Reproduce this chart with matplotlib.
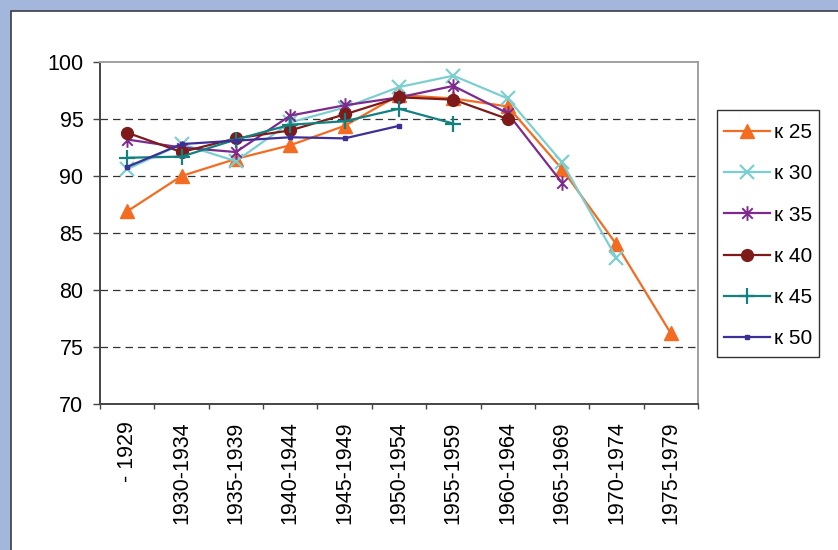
import numpy as np
import matplotlib
matplotlib.use("Agg")
import matplotlib.pyplot as plt
from matplotlib.patches import Rectangle
from matplotlib.path import Path
from matplotlib import font_manager

names = {f.name for f in font_manager.fontManager.ttflist}
fam = 'Liberation Sans Narrow' if 'Liberation Sans Narrow' in names else 'Liberation Sans'
plt.rcParams['font.family'] = [fam, 'DejaVu Sans']

categories = ["- 1929", "1930-1934", "1935-1939", "1940-1944", "1945-1949",
              "1950-1954", "1955-1959", "1960-1964", "1965-1969", "1970-1974", "1975-1979"]
nan = np.nan
k25 = [86.9, 90.0, 91.5, 92.7, 94.4, 97.1, 96.8, 96.1, 90.6, 84.0, 76.2]
k30 = [90.6, 92.8, 91.3, 94.7, 96.0, 97.8, 98.8, 96.8, 91.2, 82.8, nan]
k35 = [93.2, 92.5, 92.1, 95.3, 96.2, 96.9, 97.9, 95.5, 89.4, nan, nan]
k40 = [93.8, 92.1, 93.3, 94.0, 95.4, 96.9, 96.7, 95.0, nan, nan, nan]
k45 = [91.6, 91.7, 93.2, 94.5, 94.8, 95.9, 94.6, nan, nan, nan, nan]
k50 = [90.8, 92.8, 93.1, 93.4, 93.3, 94.4, nan, nan, nan, nan, nan]
series_labels = ["к 25", "к 30", "к 35", "к 40", "к 45", "к 50"]
yticks = [70, 75, 80, 85, 90, 95, 100]

W, H = 838, 550
fig = plt.figure(figsize=(W / 100, H / 100), dpi=100, facecolor='#A3B7DD')
fig.patches.append(Rectangle((11 / W, -0.05), 1.1, 1.05 - 11 / H, transform=fig.transFigure,
                             facecolor='white', edgecolor='#3C3C4C', lw=1.2, zorder=-10))
# legend frame
fig.patches.append(Rectangle((717 / W, 1 - 357 / H), 102 / W, 247 / H, transform=fig.transFigure,
                             facecolor='none', edgecolor='#333333', lw=1.0, zorder=5))

ax = fig.add_axes([100 / W, 1 - 404 / H, 598 / W, 342 / H], zorder=1)
ax.set_facecolor('none')

ast = Path([(0, -1), (0, 1), (-0.72, -0.72), (0.72, 0.72), (-0.72, 0.72), (0.72, -0.72)],
           [Path.MOVETO, Path.LINETO, Path.MOVETO, Path.LINETO, Path.MOVETO, Path.LINETO])

x = np.arange(len(categories))
styles = [
    dict(color='#F36C21', marker='^', ms=9.5, mec='#F36C21', mfc='#F36C21'),
    dict(color='#7DCFCF', marker='x', ms=9.5, mew=1.6),
    dict(color='#7C2A8E', marker=ast, ms=10.5, mew=1.4),
    dict(color='#7E1A1A', marker='o', ms=8.5),
    dict(color='#13817F', marker='+', ms=11.5, mew=1.6),
    dict(color='#3C2F98', marker='s', ms=3.5),
]
for vals, lab, st in zip([k25, k30, k35, k40, k45, k50], series_labels, styles):
    ax.plot(x, vals, lw=1.6, label=lab, **st)

ax.set_xlim(-0.5, len(categories) - 0.5)
ax.set_ylim(70, 100)
ax.set_yticks(yticks)
ax.set_yticklabels([str(v) for v in yticks])
for v in yticks[1:-1]:
    ax.axhline(v, color='#333333', lw=0.9, ls=(0, (6, 4)), zorder=0.5)

ax.set_xticks(x)
ax.set_xticklabels(categories, rotation=90, va='top', ha='center')
ax.set_xticks(np.arange(len(categories) + 1) - 0.5, minor=True)
ax.tick_params(axis='x', which='major', length=0, pad=12.5, labelsize=15.5)
ax.tick_params(axis='x', which='minor', length=3.6, width=1, color='#444444', direction='out')
ax.tick_params(axis='y', length=5, width=1, color='#444444', pad=7, labelsize=15.5)

for s in ['left', 'bottom']:
    ax.spines[s].set_color('#444444')
    ax.spines[s].set_linewidth(1.4)
for s in ['top', 'right']:
    ax.spines[s].set_color('#A0A0A0')
    ax.spines[s].set_linewidth(1.4)

leg = fig.legend(loc='upper left', bbox_to_anchor=(724 / W, 1 - 123 / H), fontsize=15,
                 frameon=False, handlelength=2.2, handletextpad=0.22, borderpad=0,
                 labelspacing=1.07, borderaxespad=0)

fig.savefig('out.png', dpi=100, facecolor=fig.get_facecolor())
